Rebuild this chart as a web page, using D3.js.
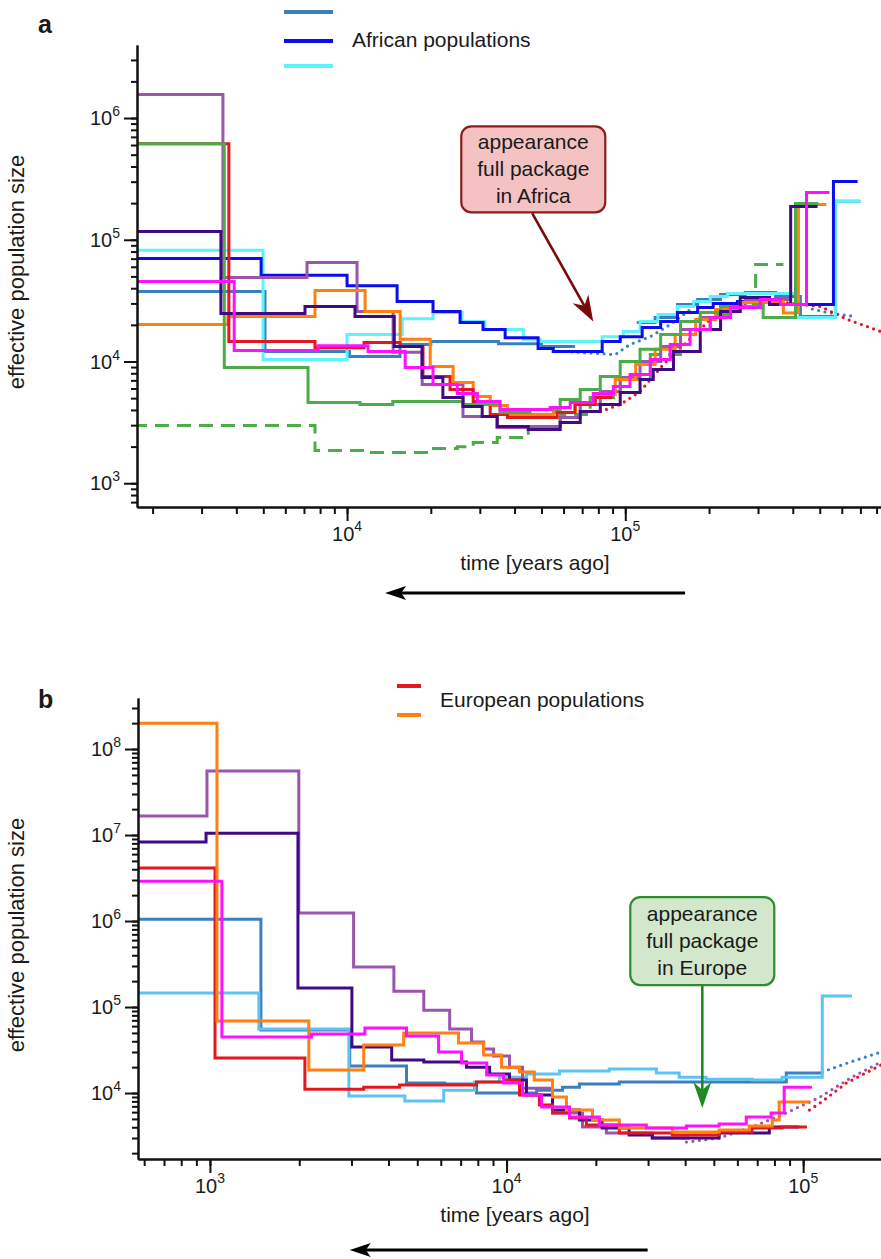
<!DOCTYPE html>
<html>
<head>
<meta charset="utf-8">
<script src="https://cdn.jsdelivr.net/npm/d3@7/dist/d3.min.js"></script>
<style>
body { margin: 0; background: #fff; }
svg text { font-family: "Liberation Sans", Arial, sans-serif; fill: #1a1a1a; }
</style>
</head>
<body>
<div id="chart"></div>
<script>
// ---- panel a: African / non-African step curves, [years ago, Ne] ----
var aSteelblue = [[1700,3.76e4],[5070,1.21e4],[10200,1.1e4],[15500,1.38e4],[20000,1.46e4],[35000,1.40e4],[50000,1.33e4],[66000,1.33e4]];
var aSteelblueLate = [[1.1e5,2.09e4],[1.28e5,2.3e4],[1.54e5,2.94e4],[1.82e5,3.23e4],[2.2e5,3.55e4],[2.7e5,3.69e4],[3.47e5,3.42e4],[4.26e5,2.34e4],[5.69e5,2.07e5],[7.0e5,2.07e5]];
var aSteelblueDot = [[60800,1.21e4],[92000,1.14e4],[1.04e5,1.38e4],[1.23e5,1.6e4],[1.45e5,2.01e4],[1.71e5,2.67e4]];
var aSteelblueTail = [[4.7e5,2.7e4],[5.3e5,2.53e4],[6.6e5,2.35e4]];
var aBlue = [[1700,7.0e4],[4910,5.1e4],[10000,4.2e4],[15130,3.11e4],[20370,2.58e4],[25480,2.09e4],[30800,1.83e4],[37000,1.57e4],[48600,1.28e4],[55100,1.21e4],[82600,1.46e4],[95900,1.6e4],[1.15e5,1.9e4],[1.34e5,2.13e4],[1.54e5,2.53e4],[1.82e5,2.78e4],[2.07e5,3.0e4],[2.53e5,3.11e4],[3.41e5,2.94e4],[5.6e5,3.01e5],[6.84e5,3.01e5]];
var aCyan = [[1700,8.2e4],[4990,1.04e4],[10000,1.67e4],[15780,2.25e4],[20370,2.53e4],[25900,2.13e4],[31300,1.83e4],[43000,1.52e4],[49400,1.46e4],[82600,1.6e4],[98400,1.76e4],[1.13e5,2.13e4],[1.31e5,2.43e4],[1.54e5,2.83e4],[1.76e5,3.11e4],[2.02e5,3.42e4],[2.33e5,3.62e4],[4.09e5,2.3e4],[5.69e5,2.07e5],[7.0e5,2.07e5]];
var aPurple = [[1700,1.56e6],[3580,4.9e4],[7180,6.5e4],[10860,2.58e4],[14640,1.19e4],[18620,6470],[26100,3530],[34600,2870],[45500,2920],[58350,3470],[68870,4430],[81300,5660],[95900,7390],[1.13e5,1.0e4],[1.34e5,1.33e4],[1.58e5,1.83e4],[1.86e5,2.3e4],[2.2e5,2.83e4],[2.7e5,3.23e4],[3.9e5,3.23e4]];
var aIndigo = [[1700,1.17e5],[3520,2.48e4],[7060,2.83e4],[10680,2.34e4],[14780,1.33e4],[18600,7390],[22100,5060],[26100,4270],[30600,3530],[34650,2920],[44800,2760],[58350,3160],[68870,3880],[81300,4430],[95900,5560],[1.13e5,7110],[1.26e5,8590],[1.49e5,1.21e4],[1.86e5,1.83e4],[2.2e5,2.58e4],[2.59e5,3.36e4],[3.3e5,2.94e4],[3.93e5,1.88e5],[4.91e5,1.88e5]];
var aRed = [[1700,6.15e5],[3760,1.46e4],[7670,1.3e4],[11510,1.43e4],[15520,1.33e4],[18750,7530],[23450,5890],[28400,4700],[32700,3670],[37700,3470],[56900,3810],[66000,4430],[78000,5060],[90000,5060]];
var aRedDot = [[81300,3880],[95900,4430],[1.13e5,5660],[1.37e5,9440],[1.67e5,1.46e4],[2.02e5,2.21e4],[2.49e5,2.94e4],[3.06e5,3.23e4],[4.26e5,2.94e4],[5.03e5,2.83e4],[6.3e5,2.21e4],[8.3e5,1.76e4]];
var aOrange = [[1700,2.01e4],[3730,2.34e4],[7670,3.83e4],[11610,2.58e4],[15520,1.52e4],[19900,9090],[24050,6720],[28400,5160],[32700,4350],[37700,3670],[55100,3810],[66000,4430],[78000,5360],[92000,7110],[1.09e5,9440],[1.28e5,1.26e4],[1.51e5,1.67e4],[1.79e5,2.21e4],[2.11e5,2.67e4],[2.59e5,3.05e4],[3.3e5,3.1e4],[3.7e5,2.5e4],[4.19e5,1.95e5],[5.28e5,1.95e5]];
var aMagenta = [[1700,4.54e4],[3930,1.23e4],[7870,1.35e4],[11900,1.21e4],[16180,8930],[20370,6470],[24900,5460],[29400,4700],[35470,4030],[53700,4190],[63400,4610],[76700,5460],[90600,6230],[1.04e5,7830],[1.23e5,1.04e4],[1.45e5,1.38e4],[1.71e5,1.83e4],[2.02e5,2.3e4],[2.39e5,2.78e4],[3.06e5,3.23e4],[3.61e5,2.94e4],[4.48e5,2.45e5],[5.42e5,2.45e5]];
var aGreen = [[1700,6.15e5],[3620,8930],[7240,4600],[11130,4430],[14600,4700],[26100,4430],[35470,3810],[45500,4030],[58350,4870],[68870,5890],[81300,7530],[95900,1.0e4],[1.13e5,1.26e4],[1.34e5,1.67e4],[1.58e5,2.13e4],[1.86e5,2.53e4],[2.2e5,2.83e4],[2.88e5,2.94e4],[3.13e5,2.3e4],[4.09e5,1.99e5],[4.94e5,1.99e5]];
var aGreenDash = [[1700,2980],[7670,1860],[11800,1790],[20200,1930],[24900,1990],[28400,2160],[34650,2370],[44800,2870],[58350,3670],[74800,5060],[95900,7110],[1.23e5,1.14e4],[1.58e5,1.83e4],[2.02e5,2.43e4],[2.39e5,2.78e4],[2.94e5,6.27e4],[3.7e5,6.27e4]];

// ---- panel b: European populations ----
var bOrange = [[560,2.0e8],[1056,6.88e4],[2154,1.85e4],[3300,3.61e4],[4500,4.99e4],[6890,3.81e4],[8370,2.77e4],[9620,2.0e4],[11060,1.76e4],[12400,1.42e4],[14290,8980],[15920,6340],[19490,4850],[24000,3920],[36200,3520],[52100,3710],[65800,4130],[78700,4850],[83000,7850],[1.05e5,7850]];
var bRed = [[560,4.13e6],[1040,2.55e4],[2090,1.11e4],[3300,1.17e4],[4360,1.24e4],[7920,1.34e4],[9770,1.42e4],[11060,9480],[12910,7250],[14290,5860],[16300,5120],[18580,4250],[24000,3430],[36200,3250],[52100,3520],[67300,3920],[84900,4030],[1.03e5,4030]];
var bRedDot = [[1.05e5,6340],[1.14e5,7650],[1.4e5,1.31e4],[1.83e5,2.12e4]];
var bMagenta = [[560,2.9e6],[1097,4.48e4],[2200,4.85e4],[3330,5.7e4],[4600,4.6e4],[5900,3.0e4],[7050,2.23e4],[8570,1.62e4],[9770,1.31e4],[11320,9480],[13130,6880],[16300,5260],[20560,4250],[29600,3920],[40400,4130],[52100,4360],[64300,5260],[78000,5860],[86300,1.17e4],[1.07e5,1.17e4]];
var bPurple = [[560,1.66e7],[977,5.55e7],[1993,1.24e6],[3050,2.92e5],[4170,1.53e5],[5260,9.2e4],[6430,5.55e4],[7620,3.92e4],[8370,3.25e4],[9040,2.69e4],[10230,2.0e4],[11320,1.14e4],[14290,5860],[18030,4030],[21700,3430],[31000,3000],[41300,3000]];
var bPurpleDot = [[40400,2690],[52100,3000],[67300,4030],[87700,5860],[1.14e5,8980],[1.46e5,1.53e4],[1.83e5,2.29e4]];
var bIndigo = [[560,8.3e6],[970,1.05e7],[1980,1.66e5],[3010,3.43e4],[4100,2.42e4],[5260,2.29e4],[7330,2.0e4],[8770,1.66e4],[10230,1.42e4],[11670,9480],[14290,6340],[17610,4850],[21000,3920],[25900,3250],[31000,3000],[45700,3000],[52100,3430],[76900,4030],[97000,4030]];
var bSteelblue = [[560,1.05e6],[1485,5.4e4],[2960,2.06e4],[4600,1.31e4],[6180,1.27e4],[7920,1.0e4],[12630,1.08e4],[15450,1.17e4],[17610,1.27e4],[24000,1.34e4],[67300,1.34e4],[87700,1.71e4],[1.16e5,1.71e4]];
var bSteelblueDot = [[1.16e5,1.76e4],[1.44e5,2.29e4],[1.83e5,3.0e4]];
var bSky = [[560,1.46e5],[1462,5.55e4],[2940,9230],[4540,8070],[6140,1.08e4],[7800,1.34e4],[9460,1.53e4],[11670,1.66e4],[15080,1.8e4],[22200,1.9e4],[32000,1.71e4],[38200,1.53e4],[47100,1.45e4],[67300,1.42e4],[84900,1.53e4],[1.16e5,1.34e5],[1.46e5,1.34e5]];

var col = {
    steel: '#3c7fbe', blue: '#0c0cf0', cyan: '#5ef2fc', sky: '#5cc3f2',
    purple: '#9a55ad', indigo: '#3f0a84', red: '#e4171f', orange: '#ff7f0f',
    magenta: '#ff10ff', green: '#4cac48'
};

var W = 881, H = 1259;
var svg = d3.select('#chart').append('svg')
    .attr('width', W)
    .attr('height', H);

function logTicks(domain, majorOnly) {
    var out = [];
    var lo = Math.floor(Math.log10(domain[0])), hi = Math.ceil(Math.log10(domain[1]));
    for (var e = lo; e <= hi; e++) {
        for (var k = 1; k <= 9; k++) {
            if (majorOnly && k > 1) continue;
            var v = k * Math.pow(10, e);
            if (v >= domain[0] && v <= domain[1]) out.push(v);
        }
    }
    return out;
}

function arrow(g, x1, y1, x2, y2, color, width, len, half, notch) {
    var dx = x2 - x1, dy = y2 - y1, L = Math.sqrt(dx * dx + dy * dy);
    var ux = dx / L, uy = dy / L, px = -uy, py = ux;
    var bx = x2 - ux * len, by = y2 - uy * len;
    var nx = x2 - ux * (len - notch), ny = y2 - uy * (len - notch);
    g.append('line')
        .attr('x1', x1).attr('y1', y1).attr('x2', nx).attr('y2', ny)
        .attr('stroke', color).attr('stroke-width', width);
    g.append('path')
        .attr('d', 'M' + x2 + ',' + y2 + 'L' + (bx + px * half) + ',' + (by + py * half) +
            'L' + nx + ',' + ny + 'L' + (bx - px * half) + ',' + (by - py * half) + 'Z')
        .attr('fill', color);
}

function drawPanel(p) {
    var x = d3.scaleLog().domain(p.xDomain).range([p.left, p.right]);
    var y = d3.scaleLog().domain(p.yDomain).range([p.bottom, p.top]);

    svg.append('clipPath').attr('id', 'clip-' + p.id)
        .append('rect')
        .attr('x', p.left + 1).attr('y', p.top)
        .attr('width', p.right - p.left).attr('height', p.bottom - p.top - 1);

    var plot = svg.append('g').attr('clip-path', 'url(#clip-' + p.id + ')');
    var stepLine = d3.line().curve(d3.curveStepAfter)
        .x(function(d) { return x(d[0]); })
        .y(function(d) { return y(d[1]); });
    var dotLine = d3.line()
        .x(function(d) { return x(d[0]); })
        .y(function(d) { return y(d[1]); });

    p.series.forEach(function(s) {
        plot.append('path')
            .datum(s.data)
            .attr('d', s.style === 'dot' ? dotLine : stepLine)
            .attr('fill', 'none')
            .attr('stroke', s.color)
            .attr('stroke-width', s.style === 'dot' ? 3.2 : 3)
            .attr('stroke-linecap', s.style === 'dot' ? 'round' : 'butt')
            .attr('stroke-dasharray', s.style === 'dash' ? '14,8' : (s.style === 'dot' ? '0,6.5' : null));
    });

    // axes: minor ticks first, then majors
    function styleAxis(g) {
        g.selectAll('path, line').attr('stroke', '#111').attr('stroke-width', 2);
        g.selectAll('text').remove();
    }
    svg.append('g')
        .attr('transform', 'translate(0,' + p.bottom + ')')
        .call(d3.axisBottom(x).tickValues(logTicks(p.xDomain)).tickSize(7).tickSizeOuter(0).tickFormat(''))
        .call(styleAxis);
    svg.append('g')
        .attr('transform', 'translate(0,' + p.bottom + ')')
        .call(d3.axisBottom(x).tickValues(logTicks(p.xDomain, true)).tickSize(14).tickSizeOuter(0).tickFormat(''))
        .call(styleAxis);
    svg.append('g')
        .attr('transform', 'translate(' + p.left + ',0)')
        .call(d3.axisLeft(y).tickValues(logTicks(p.yDomain)).tickSize(6).tickSizeOuter(0).tickFormat(''))
        .call(styleAxis);
    svg.append('g')
        .attr('transform', 'translate(' + p.left + ',0)')
        .call(d3.axisLeft(y).tickValues(logTicks(p.yDomain, true)).tickSize(13).tickSizeOuter(0).tickFormat(''))
        .call(styleAxis);

    logTicks(p.xDomain, true).forEach(function(v) {
        var t = svg.append('text')
            .attr('x', x(v)).attr('y', p.bottom + 34)
            .attr('text-anchor', 'middle')
            .attr('font-size', 20);
        t.append('tspan').text('10');
        t.append('tspan').attr('dy', -10).attr('font-size', 14).text(Math.round(Math.log10(v)));
    });
    logTicks(p.yDomain, true).forEach(function(v) {
        var t = svg.append('text')
            .attr('x', p.left - 17).attr('y', y(v) + 7)
            .attr('text-anchor', 'end')
            .attr('font-size', 20);
        t.append('tspan').text('10');
        t.append('tspan').attr('dy', -9).attr('font-size', 14).text(Math.round(Math.log10(v)));
    });

    // labels
    svg.append('text')
        .attr('transform', 'translate(' + p.yLabelX + ',' + p.yLabelY + ') rotate(-90)')
        .attr('text-anchor', 'middle')
        .attr('font-size', 22)
        .text('effective population size');
    svg.append('text')
        .attr('x', p.xLabelX).attr('y', p.bottom + 63)
        .attr('text-anchor', 'middle')
        .attr('font-size', 21)
        .text('time [years ago]');
    svg.append('text')
        .attr('x', 38).attr('y', p.tagY)
        .attr('font-size', 25).attr('font-weight', 'bold')
        .text(p.id);

    // time arrow under the axis
    var ag = svg.append('g');
    arrow(ag, x(p.arrowFrom), p.bottom + p.arrowDy, x(p.arrowTo), p.bottom + p.arrowDy, '#000', 3, 21, 7, 5);

    // legend
    var lg = svg.append('g');
    p.legend.lines.forEach(function(l) {
        lg.append('line')
            .attr('x1', p.legend.x).attr('x2', p.legend.x + p.legend.w)
            .attr('y1', l.y).attr('y2', l.y)
            .attr('stroke', l.color).attr('stroke-width', 4);
    });
    lg.append('text')
        .attr('x', p.legend.textX).attr('y', p.legend.textY)
        .attr('font-size', 21)
        .text(p.legend.text);

    // annotation box with arrow
    var b = p.box;
    var bx = x(b.t), by = y(b.n);
    var bg = svg.append('g');
    bg.append('rect')
        .attr('x', bx - b.w / 2).attr('y', by - b.h / 2)
        .attr('width', b.w).attr('height', b.h)
        .attr('rx', 10).attr('ry', 10)
        .attr('fill', b.fill).attr('stroke', b.stroke).attr('stroke-width', 2.2);
    b.lines.forEach(function(s, i) {
        bg.append('text')
            .attr('x', bx).attr('y', by + (i - 1) * 27 + 7)
            .attr('text-anchor', 'middle')
            .attr('font-size', 21)
            .text(s);
    });
    arrow(bg, x(b.fromT), by + b.h / 2 + 1, x(b.tipT), y(b.tipN), b.arrow, 2.6, 26, 9, 8);
}

drawPanel({
    id: 'a', left: 137, right: 881, top: 45, bottom: 507,
    xDomain: [1758, 8.3e5], yDomain: [638, 3.98e6],
    yLabelX: 24, yLabelY: 272, xLabelX: 535, tagY: 33,
    arrowFrom: 1.64e5, arrowTo: 13700, arrowDy: 86,
    legend: {
        x: 284, w: 49, textX: 352, textY: 47, text: 'African populations',
        lines: [{ y: 12, color: col.steel }, { y: 41, color: col.blue }, { y: 66, color: col.cyan }]
    },
    box: {
        t: 46700, n: 3.79e5, w: 144, h: 86, fromT: 46300, tipT: 76700, tipN: 2.13e4,
        fill: '#f4c2c2', stroke: '#8a1c1c', arrow: '#7a0a0a',
        lines: ['appearance', 'full package', 'in Africa']
    },
    series: [
        { data: aSteelblueDot, color: col.steel, style: 'dot' },
        { data: aSteelblueTail, color: col.steel, style: 'dot' },
        { data: aRedDot, color: col.red, style: 'dot' },
        { data: aGreenDash, color: col.green, style: 'dash' },
        { data: aSteelblue, color: col.steel },
        { data: aSteelblueLate, color: col.steel },
        { data: aCyan, color: col.cyan },
        { data: aBlue, color: col.blue },
        { data: aPurple, color: col.purple },
        { data: aOrange, color: col.orange },
        { data: aRed, color: col.red },
        { data: aGreen, color: col.green },
        { data: aIndigo, color: col.indigo },
        { data: aMagenta, color: col.magenta }
    ]
});

drawPanel({
    id: 'b', left: 138, right: 881, top: 698, bottom: 1159,
    xDomain: [572, 1.83e5], yDomain: [1710, 3.92e8],
    yLabelX: 24, yLabelY: 935, xLabelX: 515, tagY: 708,
    arrowFrom: 29900, arrowTo: 2960, arrowDy: 91,
    legend: {
        x: 397, w: 24, textX: 440, textY: 707, text: 'European populations',
        lines: [{ y: 686, color: col.red }, { y: 715, color: col.orange }]
    },
    box: {
        t: 45700, n: 5.85e5, w: 144, h: 88, fromT: 45700, tipT: 45700, tipN: 6700,
        fill: '#d3e7cd', stroke: '#2e8b2e', arrow: '#1f8a1f',
        lines: ['appearance', 'full package', 'in Europe']
    },
    series: [
        { data: bRedDot, color: col.red, style: 'dot' },
        { data: bPurpleDot, color: col.purple, style: 'dot' },
        { data: bSteelblueDot, color: col.steel, style: 'dot' },
        { data: bSteelblue, color: col.steel },
        { data: bSky, color: col.sky },
        { data: bPurple, color: col.purple },
        { data: bIndigo, color: col.indigo },
        { data: bRed, color: col.red },
        { data: bOrange, color: col.orange },
        { data: bMagenta, color: col.magenta }
    ]
});
</script>
</body>
</html>
